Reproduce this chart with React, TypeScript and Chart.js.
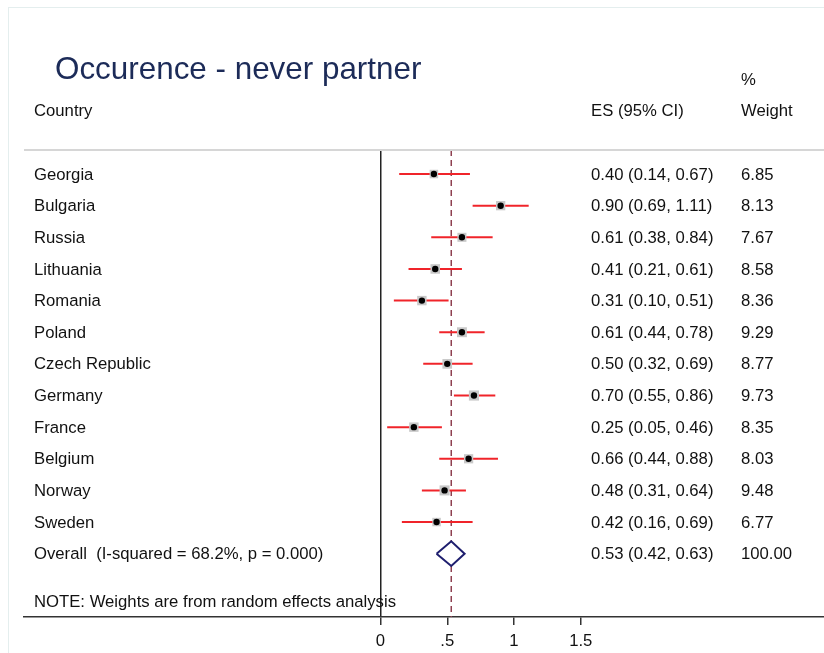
import React, { useEffect, useRef } from "react";
import { Chart, registerables } from "chart.js";

Chart.register(...registerables);

const TITLE = "Occurence - never partner";
const countries = [
  "Georgia", "Bulgaria", "Russia", "Lithuania", "Romania", "Poland",
  "Czech Republic", "Germany", "France", "Belgium", "Norway", "Sweden",
];
const es = [0.40, 0.90, 0.61, 0.41, 0.31, 0.61, 0.50, 0.70, 0.25, 0.66, 0.48, 0.42];
const lo = [0.14, 0.69, 0.38, 0.21, 0.10, 0.44, 0.32, 0.55, 0.05, 0.44, 0.31, 0.16];
const hi = [0.67, 1.11, 0.84, 0.61, 0.51, 0.78, 0.69, 0.86, 0.46, 0.88, 0.64, 0.69];
const weights = [6.85, 8.13, 7.67, 8.58, 8.36, 9.29, 8.77, 9.73, 8.35, 8.03, 9.48, 6.77];
const overallLabel = "Overall  (I-squared = 68.2%, p = 0.000)";
const overallES = 0.53;
const overallLo = 0.42;
const overallHi = 0.63;
const overallWeight = 100.0;
const xTicks = [0, 0.5, 1, 1.5];
const tickLabels = ["0", ".5", "1", "1.5"];
const noteText = "NOTE: Weights are from random effects analysis";

const FONT = '"Liberation Sans", Arial, Helvetica, sans-serif';

export default function App() {
  const ref = useRef<HTMLCanvasElement | null>(null);

  useEffect(() => {
    const canvas = ref.current;
    if (!canvas) return;

    const n = countries.length;
    const overallRow = n;
    const yMin = -0.76;
    const yMax = 14.0;

    // x scale layout: chart area from 24 to 824, 0 at 380.5, 133.5 px per unit
    const pxPerUnit = 133.5;
    const zeroPx = 380.5;
    const left = 24;
    const right = 824;
    const xMin = -(zeroPx - left) / pxPerUnit;
    const xMax = xMin + (right - left) / pxPerUnit;

    const ciDatasets = countries.map((_, i) => ({
      type: "scatter" as const,
      data: [
        { x: lo[i], y: i },
        { x: hi[i], y: i },
      ],
      showLine: true,
      borderColor: "#f0242a",
      borderWidth: 2,
      pointRadius: 0,
      order: 3,
    }));

    const dh = 0.39;
    const diamond = [
      { x: overallLo, y: overallRow },
      { x: overallES, y: overallRow - dh },
      { x: overallHi, y: overallRow },
      { x: overallES, y: overallRow + dh },
      { x: overallLo, y: overallRow },
    ];

    const dashedStyle = {
      type: "scatter" as const,
      showLine: true,
      borderColor: "#8e4050",
      borderWidth: 1.5,
      borderDash: [6, 4],
      pointRadius: 0,
      order: 4,
    };

    const textPlugin = {
      id: "forestText",
      beforeDraw(chart: any) {
        const ctx = chart.ctx;
        ctx.save();
        ctx.strokeStyle = "#e4eeee";
        ctx.lineWidth = 1;
        ctx.strokeRect(8.5, 7.5, 900, 900);
        ctx.restore();
      },
      afterDraw(chart: any) {
        const ctx = chart.ctx;
        const ys = chart.scales.y;
        const area = chart.chartArea;
        const yp = (v: number) => ys.getPixelForValue(v) + 1;
        ctx.save();
        // top rule
        ctx.strokeStyle = "#d6d6d6";
        ctx.lineWidth = 2;
        ctx.beginPath();
        ctx.moveTo(area.left, area.top);
        ctx.lineTo(area.right, area.top);
        ctx.stroke();

        // title
        ctx.fillStyle = "#1c2b58";
        ctx.font = `31.4px ${FONT}`;
        ctx.textBaseline = "middle";
        ctx.textAlign = "left";
        ctx.fillText(TITLE, 55, 70);

        ctx.fillStyle = "#111111";
        ctx.font = `16.7px ${FONT}`;
        const colCountry = 34;
        const colES = 591;
        const colW = 741;
        ctx.fillText("%", colW, yp(-3));
        ctx.fillText("Country", colCountry, yp(-2));
        ctx.fillText("ES (95% CI)", colES, yp(-2));
        ctx.fillText("Weight", colW, yp(-2));

        countries.forEach((c, i) => {
          const y = yp(i);
          ctx.fillText(c, colCountry, y);
          ctx.fillText(
            `${es[i].toFixed(2)} (${lo[i].toFixed(2)}, ${hi[i].toFixed(2)})`,
            colES,
            y
          );
          ctx.fillText(weights[i].toFixed(2), colW, y);
        });
        const yo = yp(overallRow);
        ctx.fillText(overallLabel, colCountry, yo);
        ctx.fillText(
          `${overallES.toFixed(2)} (${overallLo.toFixed(2)}, ${overallHi.toFixed(2)})`,
          colES,
          yo
        );
        ctx.fillText(overallWeight.toFixed(2), colW, yo);
        ctx.fillText(noteText, colCountry, yp(13.5));
        ctx.restore();
      },
    };

    const chart = new Chart(canvas, {
      type: "scatter",
      data: {
        datasets: [
          {
            type: "scatter",
            data: es.map((v, i) => ({ x: v, y: i })),
            pointStyle: "circle",
            pointRadius: 3.2,
            backgroundColor: "#000000",
            borderWidth: 0,
            order: 0,
          },
          {
            type: "scatter",
            data: es.map((v, i) => ({ x: v, y: i })),
            pointStyle: "rect",
            pointRadius: (ctx: any) => 2.3 * Math.sqrt(weights[ctx.dataIndex] ?? 8),
            backgroundColor: "#c8c8c8",
            borderWidth: 0,
            order: 1,
          },
          {
            type: "scatter",
            data: diamond,
            showLine: true,
            borderColor: "#1e1e6e",
            borderWidth: 2,
            pointRadius: 0,
            order: 1,
          },
          ...ciDatasets,
          {
            ...dashedStyle,
            data: [
              { x: overallES, y: yMin },
              { x: overallES, y: overallRow - dh },
            ],
          },
          {
            ...dashedStyle,
            data: [
              { x: overallES, y: overallRow + dh },
              { x: overallES, y: yMax },
            ],
          },
        ] as any,
      },
      options: {
        responsive: false,
        animation: false,
        devicePixelRatio: 1,
        layout: {
          autoPadding: false,
          padding: { top: 150, left: left, right: 0, bottom: -4 },
        },
        plugins: {
          legend: { display: false },
          tooltip: { enabled: false },
          title: { display: false },
        },
        scales: {
          x: {
            type: "linear",
            min: xMin,
            max: xMax,
            afterBuildTicks: (axis: any) => {
              axis.ticks = xTicks.map((v) => ({ value: v }));
            },
            ticks: {
              autoSkip: false,
              maxRotation: 0,
              padding: 6,
              color: "#111111",
              font: { family: FONT, size: 16.7 },
              callback: (v: any) => {
                const idx = xTicks.indexOf(Number(v));
                return idx >= 0 ? tickLabels[idx] : "";
              },
            },
            grid: {
              drawOnChartArea: true,
              drawTicks: true,
              tickLength: 8,
              tickColor: "#333333",
              lineWidth: 1.5,
              color: (ctx: any) =>
                ctx.tick && ctx.tick.value === 0 ? "#222222" : "rgba(0,0,0,0)",
            },
            border: { display: true, color: "#333333", width: 1.5 },
          },
          y: {
            type: "linear",
            min: yMin,
            max: yMax,
            reverse: true,
            display: false,
          },
        },
      },
      plugins: [textPlugin],
    } as any);

    return () => chart.destroy();
  }, []);

  return (
    <canvas
      ref={ref}
      width={824}
      height={653}
      style={{ position: "fixed", left: 0, top: 0, width: 824, height: 653 }}
    />
  );
}
